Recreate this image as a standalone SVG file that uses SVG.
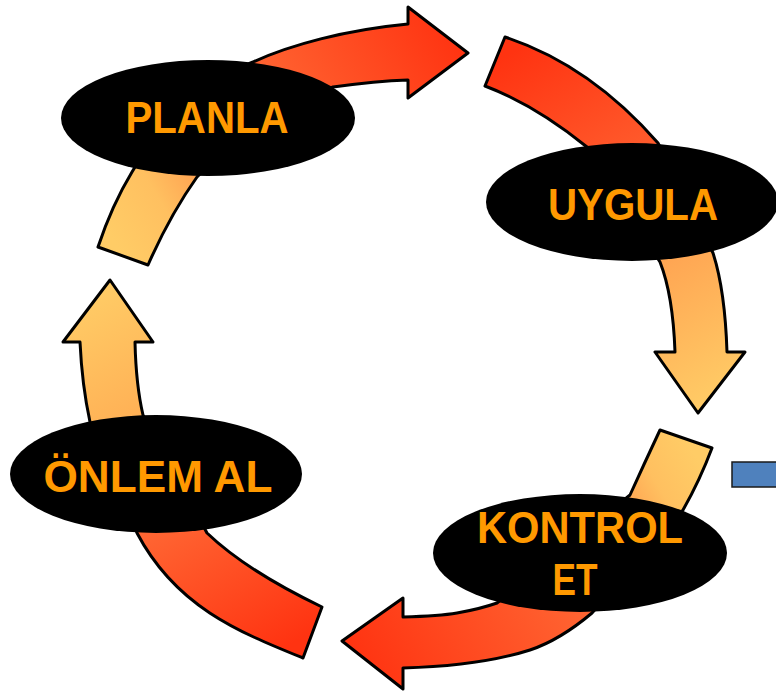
<svg xmlns="http://www.w3.org/2000/svg" width="776" height="693" viewBox="0 0 776 693">
<defs>
<linearGradient id="gA" gradientUnits="userSpaceOnUse" x1="123" y1="256" x2="468" y2="53">
<stop offset="0" stop-color="#FFCC66"/><stop offset="0.15" stop-color="#FFC060"/><stop offset="0.5" stop-color="#FF6633"/><stop offset="1" stop-color="#FF3311"/>
</linearGradient>
<linearGradient id="gB" gradientUnits="userSpaceOnUse" x1="495" y1="62" x2="698" y2="413">
<stop offset="0" stop-color="#FF3311"/><stop offset="0.4" stop-color="#FF5E2E"/><stop offset="0.62" stop-color="#FFA452"/><stop offset="1" stop-color="#FFCC66"/>
</linearGradient>
<linearGradient id="gC" gradientUnits="userSpaceOnUse" x1="686" y1="439" x2="342" y2="641">
<stop offset="0" stop-color="#FFCC66"/><stop offset="0.12" stop-color="#FFC060"/><stop offset="0.42" stop-color="#FF6633"/><stop offset="1" stop-color="#FF3311"/>
</linearGradient>
<linearGradient id="gD" gradientUnits="userSpaceOnUse" x1="312" y1="632" x2="110" y2="280">
<stop offset="0" stop-color="#FF3311"/><stop offset="0.42" stop-color="#FF6633"/><stop offset="0.67" stop-color="#FFB055"/><stop offset="1" stop-color="#FFCC66"/>
</linearGradient>
</defs>
<style>
.arrow{stroke:#000;stroke-width:3;stroke-linejoin:round}
.node{fill:#000}
.lbl{font-family:"Liberation Sans","DejaVu Sans",sans-serif;font-weight:bold;font-size:45px;fill:#FF9900;text-anchor:middle}
</style>
<rect width="776" height="693" fill="#fff"/>
<g id="connectors">
<path id="arrow-planla-uygula" class="arrow" fill="url(#gA)" d="M98,247 Q112,205 132,172 Q180,90 253,62 C290,45 345,30 408,24 L408,7 L468,53 L408,98 L408,80 C380,81 355,84 333,87 Q255,115 197,177 Q170,215 148,265 Z"/>
<path id="arrow-uygula-kontrol" class="arrow" fill="url(#gB)" d="M505,37 Q590,65 658,143 L713,253 Q725,290 727,352 L745,352 L698,413 L655,352 L675,352 Q673,295 660,262 L587,147 Q535,105 485,86 Z"/>
<path id="arrow-kontrol-onlem" class="arrow" fill="url(#gC)" d="M660,430 L712,448 Q700,480 683,510 L592,613 Q560,640 530,650 Q480,666 403,668 L403,689 L342,641 L403,598 L403,617 Q440,616 457,613 Q480,609 497,603 L630,495 Q645,462 660,430 Z"/>
<path id="arrow-onlem-planla" class="arrow" fill="url(#gD)" d="M303,658 C239,632 176,607 137,533 L90,422 Q82,385 80,342 L63,342 L110,280 L153,342 L135,342 Q136,385 143,415 L207,533 C230,555 270,582 322,607 Z"/>
</g>
<g id="node-planla">
<ellipse class="node" cx="208" cy="118" rx="147" ry="58"/>
<text class="lbl" x="207" y="133" textLength="163" lengthAdjust="spacingAndGlyphs">PLANLA</text>
</g>
<g id="node-uygula">
<ellipse class="node" cx="632" cy="202" rx="146" ry="59"/>
<text class="lbl" x="633" y="220" textLength="170" lengthAdjust="spacingAndGlyphs">UYGULA</text>
</g>
<g id="node-kontrol">
<ellipse class="node" cx="580" cy="553" rx="147" ry="59"/>
<text class="lbl" x="580" y="543" textLength="206" lengthAdjust="spacingAndGlyphs">KONTROL</text>
<text class="lbl" x="575" y="595" textLength="45" lengthAdjust="spacingAndGlyphs">ET</text>
</g>
<g id="node-onlem">
<ellipse class="node" cx="156" cy="474" rx="146" ry="59"/>
<text class="lbl" x="158" y="492" textLength="229" lengthAdjust="spacingAndGlyphs">ÖNLEM AL</text>
</g>
<g id="blue-box">
<rect x="732" y="462" width="50" height="25" fill="#4F81BD" stroke="#1a1a1a" stroke-width="1.5"/>
</g>
</svg>
